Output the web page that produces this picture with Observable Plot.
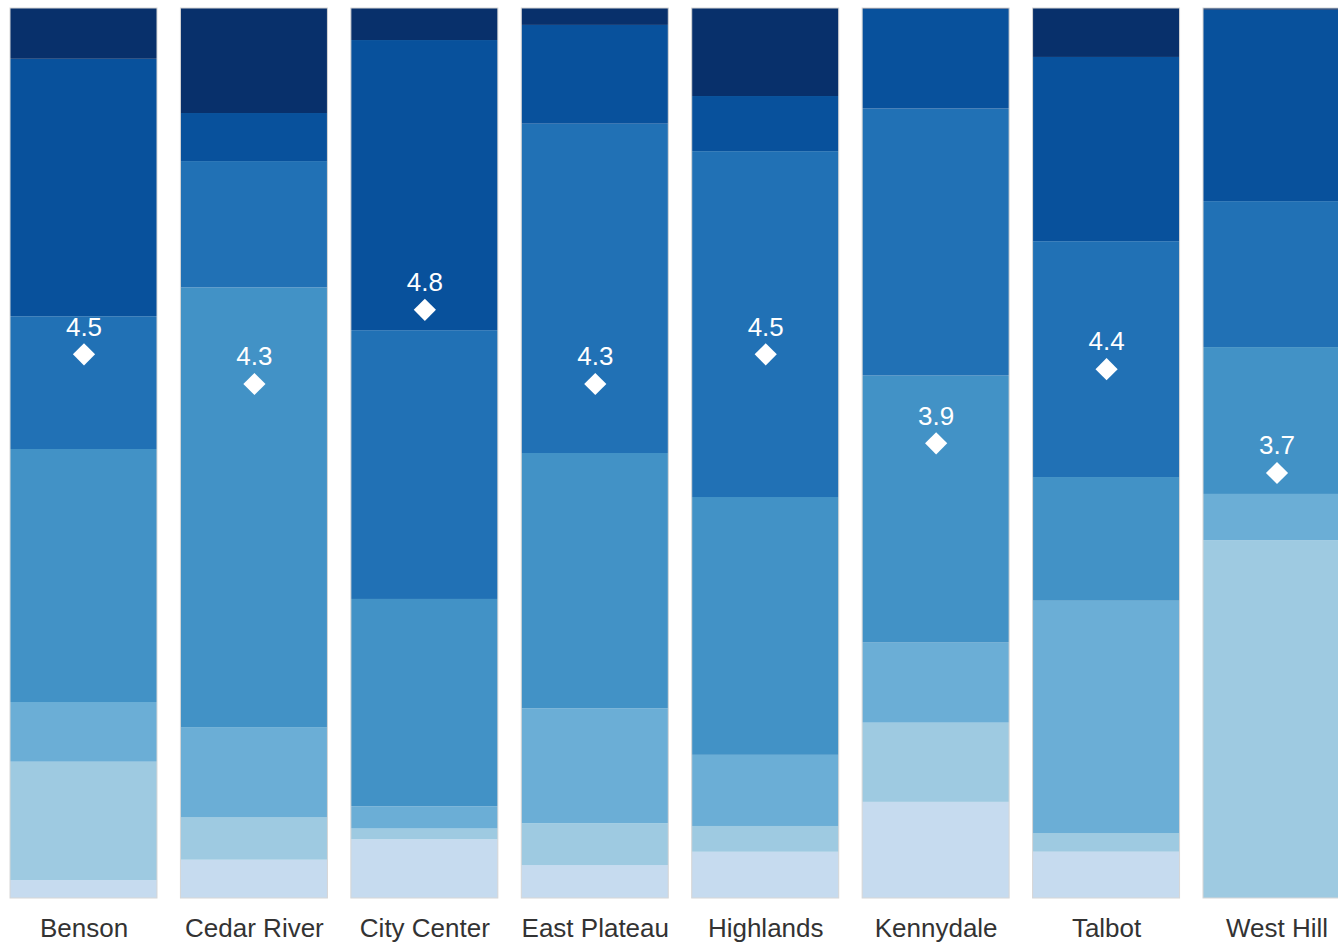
<!DOCTYPE html>
<html>
<head>
<meta charset="utf-8">
<script src="https://cdn.jsdelivr.net/npm/d3@7"></script>
<script src="https://cdn.jsdelivr.net/npm/@observablehq/plot@0.6"></script>
<style>
  html, body { margin: 0; padding: 0; background: #fff; overflow: hidden; }
  #chart { width: 1338px; height: 944px; overflow: hidden; }
</style>
</head>
<body>
<div id="chart"></div>
<script>
// Neighborhoods along the x axis
const neighborhoods = ["Benson", "Cedar River", "City Center", "East Plateau", "Highlands", "Kennydale", "Talbot", "West Hill"];

// Rating levels 1 (lowest) to 7 (highest)
const levels = [1, 2, 3, 4, 5, 6, 7];

// Share of responses (%) per level, level 1 first
const benson      = [2.0, 13.3, 6.7, 28.4, 14.9, 28.9, 5.7];
const cedarRiver  = [4.3, 4.8, 10.1, 49.4, 14.2, 5.4, 11.8];
const cityCenter  = [6.6, 1.2, 2.5, 23.3, 30.2, 32.6, 3.6];
const eastPlateau = [3.7, 4.7, 12.9, 28.7, 37.0, 11.1, 1.9];
const highlands   = [5.2, 2.9, 8.0, 29.0, 38.9, 6.2, 9.9];
const kennydale   = [10.8, 8.9, 9.0, 30.0, 30.0, 11.2, 0.1];
const talbot      = [5.2, 2.1, 26.1, 13.9, 26.5, 20.7, 5.5];
const westHill    = [0.0, 40.2, 5.2, 16.5, 16.4, 21.5, 0.2];

// Mean rating per neighborhood (1–7 scale)
const means = [4.5, 4.3, 4.8, 4.3, 4.5, 3.9, 4.4, 3.7];

// Seven blues, light to dark
const palette = d3.schemeBlues[9].slice(2);

const shareSets = [benson, cedarRiver, cityCenter, eastPlateau, highlands, kennydale, talbot, westHill];
const rows = neighborhoods.flatMap((name, i) =>
  shareSets[i].map((share, j) => ({neighborhood: name, level: levels[j], share}))
);
const meanRows = neighborhoods.map((name, i) => ({neighborhood: name, mean: means[i]}));

// Place the mean on the 1–7 scale along the bar height
const meanY = d => (d.mean - 1) / 6;

const chart = Plot.plot({
  width: 1338,
  height: 944,
  marginTop: 8,
  marginBottom: 46,
  marginLeft: 0,
  marginRight: 0,
  style: {fontFamily: "'Liberation Sans', Arial, sans-serif", fontSize: "26px", color: "#333", background: "#fff"},
  x: {domain: neighborhoods, range: [0, 1360], round: false, paddingInner: 0.1375, paddingOuter: 0.0587, label: null, tickSize: 0, tickPadding: 20},
  y: {domain: [0, 1], axis: null},
  color: {domain: levels, range: palette},
  marks: [
    Plot.barY(rows, Plot.stackY({offset: "normalize"}, {x: "neighborhood", y: "share", fill: "level"})),
    Plot.barY(neighborhoods, {x: d => d, y1: 0, y2: 1, fill: "none", stroke: "#d6d6d6", strokeWidth: 1}),
    Plot.dot(meanRows, {x: "neighborhood", y: meanY, symbol: "diamond2", r: 10, fill: "#fff", dy: -25}),
    Plot.text(meanRows, {x: "neighborhood", y: meanY, text: d => d.mean.toFixed(1), dy: -52, fill: "#fff", fontSize: 26})
  ]
});

chart.style.maxWidth = "none";
document.getElementById("chart").appendChild(chart);
</script>
</body>
</html>
